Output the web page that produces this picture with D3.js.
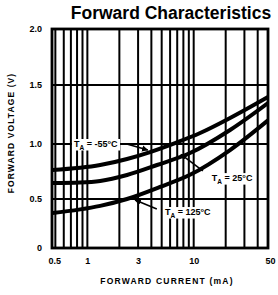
<!DOCTYPE html>
<html>
<head>
<meta charset="utf-8">
<script src="https://cdn.jsdelivr.net/npm/d3@7"></script>
<style>
  body { margin: 0; background: #fff; }
  svg { display: block; }
  text { font-family: "Liberation Sans", Arial, sans-serif; font-weight: 700; fill: #000; }
</style>
</head>
<body>
<div id="chart"></div>
<script>
// values
var currentTicks = [0.5, 1, 3, 10, 50];
var currentGrid = [0.5, 0.6, 0.7, 0.8, 0.9, 1, 2, 3, 4, 5, 6, 7, 8, 9, 10, 20, 30, 40, 50];
var voltageTicks = [0, 0.5, 1.0, 1.5, 2.0];
var voltageTickLabels = ['0', '0.5', '1.0', '1.5', '2.0'];

var iCold = [0.47, 1.32, 2.36, 3.89, 6.68, 11.5, 22, 50];
var vCold = [0.764, 0.809, 0.864, 0.927, 1.008, 1.093, 1.22, 1.398];
var iRoom = [0.47, 0.85, 1.32, 2.36, 4.52, 9.24, 22, 50];
var vRoom = [0.645, 0.65, 0.664, 0.718, 0.809, 0.918, 1.119, 1.347];
var iHot = [0.47, 1.32, 2.36, 4.83, 9.24, 22, 50];
var vHot = [0.357, 0.43, 0.5, 0.61, 0.72, 0.945, 1.2];

var tempLabels = ['-55°C', '25°C', '125°C'];

var width = 278, height = 295;
var plot = { left: 52, right: 268, top: 29, bottom: 248 };

var svg = d3.select('#chart').append('svg')
    .attr('width', width)
    .attr('height', height);

var x = d3.scaleLog()
    .domain([0.465, 50])
    .range([plot.left, plot.right]);

// scanned graph: grid spacing is not quite even
var y = d3.scaleLinear()
    .domain(voltageTicks)
    .range([248, 199, 144, 85, 29]);

svg.append('text')
    .attr('x', 171)
    .attr('y', 19)
    .attr('text-anchor', 'middle')
    .style('font-size', '17.5px')
    .text('Forward Characteristics');

var grid = svg.append('g').attr('id', 'grid');
grid.selectAll('line.v').data(currentGrid).enter()
    .append('line')
    .attr('class', 'v')
    .attr('x1', function(d) { return x(d); })
    .attr('x2', function(d) { return x(d); })
    .attr('y1', plot.top)
    .attr('y2', plot.bottom)
    .attr('stroke', '#000')
    .attr('stroke-width', 2);

grid.selectAll('line.h').data(voltageTicks.slice(1, -1)).enter()
    .append('line')
    .attr('class', 'h')
    .attr('x1', plot.left)
    .attr('x2', plot.right)
    .attr('y1', function(d) { return y(d); })
    .attr('y2', function(d) { return y(d); })
    .attr('stroke', '#000')
    .attr('stroke-width', 2);

svg.append('rect')
    .attr('x', plot.left)
    .attr('y', plot.top)
    .attr('width', plot.right - plot.left)
    .attr('height', plot.bottom - plot.top)
    .attr('fill', 'none')
    .attr('stroke', '#000')
    .attr('stroke-width', 2.8);

// axis ticks via d3 axes, domain path hidden
var xAxis = svg.append('g')
    .attr('transform', 'translate(0,' + plot.bottom + ')')
    .call(d3.axisBottom(x).tickValues(currentTicks).tickFormat(d3.format('')).tickSize(0).tickPadding(8));
var yAxis = svg.append('g')
    .attr('transform', 'translate(' + plot.left + ',0)')
    .call(d3.axisLeft(y).tickValues(voltageTicks).tickFormat(function(d, i) { return voltageTickLabels[i]; }).tickSize(0).tickPadding(10));
[xAxis, yAxis].forEach(function(a) {
    a.select('.domain').remove();
    a.selectAll('text')
        .style('font-size', '9px')
        .style('font-family', '"Liberation Sans Narrow", "Liberation Sans", sans-serif')
        .style('font-weight', 700)
        .attr('fill', '#000');
});
xAxis.selectAll('text').attr('dy', '0.9em');
xAxis.selectAll('.tick').filter(function(d) { return d === 0.5; }).select('text').attr('dx', -1);
xAxis.selectAll('.tick').filter(function(d) { return d === 50; }).select('text').attr('dx', 2);

svg.append('text')
    .attr('x', 167)
    .attr('y', 284)
    .attr('text-anchor', 'middle')
    .style('font-size', '8.5px')
    .style('letter-spacing', '1.2px')
    .text('FORWARD CURRENT (mA)');

svg.append('text')
    .attr('transform', 'translate(14,133) rotate(-90)')
    .attr('text-anchor', 'middle')
    .style('font-size', '8.5px')
    .style('letter-spacing', '1.1px')
    .text('FORWARD VOLTAGE (V)');

var line = d3.line()
    .x(function(d) { return x(d[0]); })
    .y(function(d) { return y(d[1]); })
    .curve(d3.curveMonotoneX);

var series = [d3.zip(iCold, vCold), d3.zip(iRoom, vRoom), d3.zip(iHot, vHot)];

svg.append('clipPath').attr('id', 'clip')
    .append('rect')
    .attr('x', plot.left).attr('y', plot.top)
    .attr('width', plot.right - plot.left).attr('height', plot.bottom - plot.top);

svg.append('g')
    .attr('clip-path', 'url(#clip)')
    .selectAll('path').data(series).enter()
    .append('path')
    .attr('d', line)
    .attr('fill', 'none')
    .attr('stroke', '#000')
    .attr('stroke-width', 4);

// labels with leader arrows: label point, arrow start, arrow tip
var notes = [
    { t: tempLabels[0], lx: 1.2, lv: 1.0, fx: 2.35, fv: 1.0, tx: 3.7, tv: 0.945 },
    { t: tempLabels[1], lx: 23, lv: 0.69, fx: 12.2, fv: 0.755, tx: 7.6, tv: 0.905 },
    { t: tempLabels[2], lx: 8.8, lv: 0.367, fx: 4.5, fv: 0.398, tx: 2.81, tv: 0.49 }
];

svg.append('defs').append('marker')
    .attr('id', 'head')
    .attr('viewBox', '0 0 10 10')
    .attr('refX', 9).attr('refY', 5)
    .attr('markerWidth', 4).attr('markerHeight', 4)
    .attr('orient', 'auto')
    .append('path')
    .attr('d', 'M0,0L10,5L0,10z')
    .attr('fill', '#000');

var note = svg.selectAll('g.note').data(notes).enter()
    .append('g').attr('class', 'note');

note.append('line')
    .attr('x1', function(d) { return x(d.fx); })
    .attr('y1', function(d) { return y(d.fv); })
    .attr('x2', function(d) { return x(d.tx); })
    .attr('y2', function(d) { return y(d.tv); })
    .attr('stroke', '#000')
    .attr('stroke-width', 1.6)
    .attr('marker-end', 'url(#head)');

var labelText = note.append('text')
    .attr('x', function(d) { return x(d.lx); })
    .attr('y', function(d) { return y(d.lv) + 3; })
    .attr('text-anchor', 'middle')
    .style('font-size', '9px');
labelText.append('tspan').text('T');
labelText.append('tspan').attr('dy', 2.5).style('font-size', '6.5px').text('A');
labelText.append('tspan').attr('dy', -2.5).text(function(d) { return ' = ' + d.t; });

labelText.each(function() {
    var b = this.getBBox();
    d3.select(this.parentNode).insert('rect', 'text')
        .attr('x', b.x - 2).attr('y', b.y)
        .attr('width', b.width + 4).attr('height', b.height)
        .attr('fill', '#fff');
});
</script>
</body>
</html>
